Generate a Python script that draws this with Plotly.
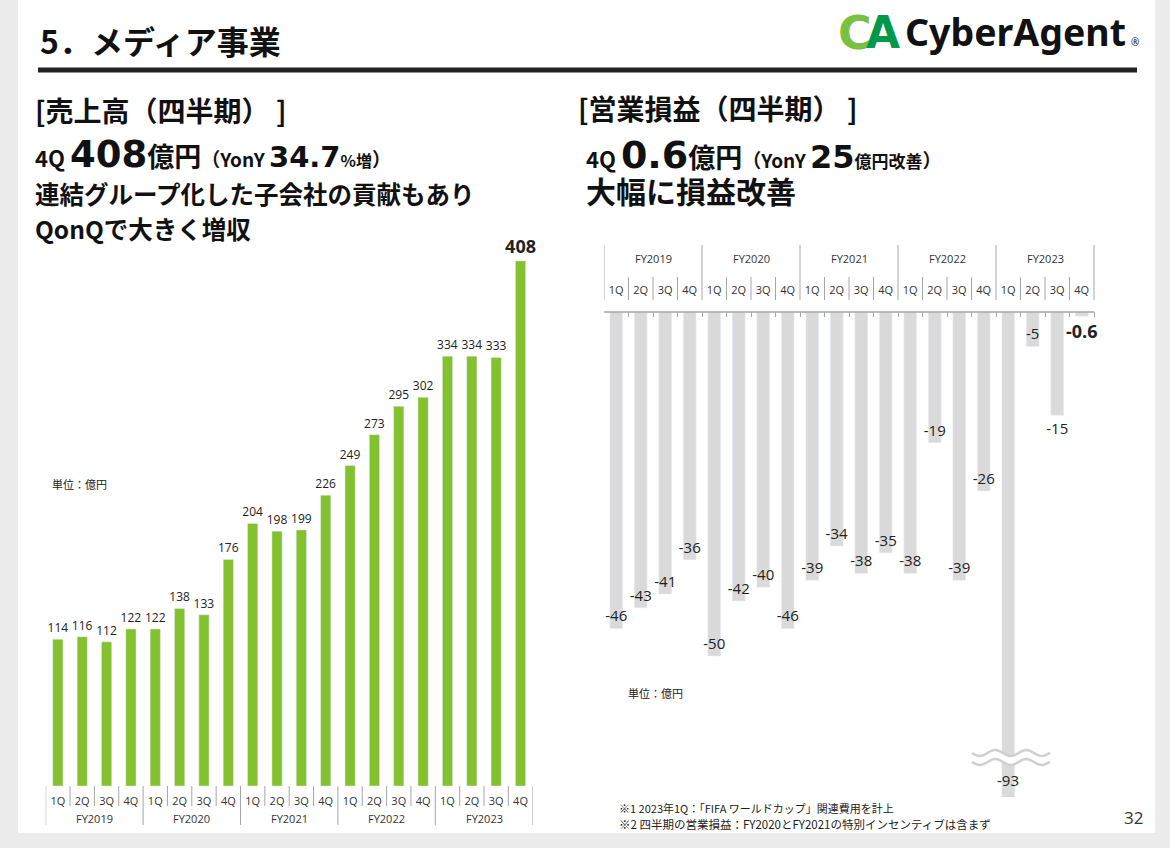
import math
import plotly.graph_objects as go

# ---- data ----
years = ['FY2019', 'FY2020', 'FY2021', 'FY2022', 'FY2023']
quarters = ['1Q', '2Q', '3Q', '4Q']
sales = [114, 116, 112, 122, 122, 138, 133, 176, 204, 198, 199, 226,
         249, 273, 295, 302, 334, 334, 333, 408]
op_income = [-46, -43, -41, -36, -50, -42, -40, -46, -39, -34, -38, -35,
             -38, -19, -39, -26, -93, -5, -15, -0.6]

W, H = 1170, 848
JP = 'Noto Sans CJK JP'
NUM = 'Open Sans'
WIDE = 'DejaVu Sans'


def px(x):
    return x / W


def py(y):
    return 1 - y / H


cats = [f'{y} {q}' for y in years for q in quarters]
q_labels = [q for y in years for q in quarters]
n = len(cats)

fig = go.Figure()

# left: sales
sales_text = [str(v) for v in sales]
sales_text[-1] = f'<b>{sales[-1]}</b>'
sales_size = [12] * (n - 1) + [18]
fig.add_trace(go.Bar(x=cats, y=sales, marker_color='#84c12e', width=0.42,
                     text=sales_text, textposition='outside', textangle=0,
                     constraintext='none',
                     textfont=dict(family=NUM, size=sales_size, color='#222'),
                     cliponaxis=False, hoverinfo='skip', xaxis='x', yaxis='y'))

# right: operating income
op_text = [f'<b>{v}</b>' if i == n - 1 else (str(int(v)) if v == int(v) else str(v))
           for i, v in enumerate(op_income)]
op_pos = ['inside'] * n
op_pos[-1] = 'outside'
op_pos[-2] = 'outside'
op_pos[-4] = 'none'
op_size = [15] * (n - 1) + [18]
fig.add_trace(go.Bar(x=cats, y=op_income, marker_color='#dadada', width=0.52,
                     text=op_text, textposition=op_pos, insidetextanchor='end',
                     constraintext='none', textangle=0,
                     textfont=dict(family=NUM, size=op_size, color='#222'),
                     insidetextfont=dict(family=NUM, size=op_size, color='#222'),
                     outsidetextfont=dict(family=NUM, size=op_size, color='#222'),
                     hoverinfo='skip', xaxis='x2', yaxis='y2'))

extra = 0.3  # room for the last label on the right chart
fig.update_layout(
    width=W, height=H, autosize=False,
    margin=dict(l=0, r=0, t=0, b=0),
    paper_bgcolor='#ececec', plot_bgcolor='rgba(0,0,0,0)',
    showlegend=False, bargap=0,
    xaxis=dict(domain=[px(45.7), px(532.7)], anchor='y', range=[-0.5, n - 0.5],
               tickvals=cats, ticktext=q_labels, ticks='', showgrid=False,
               showline=False, zeroline=False, ticklabelstandoff=7,
               tickfont=dict(family=NUM, size=11, color='#333'), fixedrange=True),
    yaxis=dict(domain=[py(786), py(250)], anchor='x', range=[0, (786 - 250) / 1.287],
               visible=False, fixedrange=True),
    xaxis2=dict(domain=[px(604), px(1094 + extra * 24.5)], anchor='y2', side='top',
                range=[-0.5, n - 0.5 + extra],
                tickvals=cats, ticktext=q_labels, ticks='inside', ticklen=5,
                tickcolor='#a6a6a6', tickson='boundaries', showgrid=False,
                showline=False, zeroline=False, ticklabelstandoff=15,
                tickfont=dict(family=NUM, size=11, color='#333'), fixedrange=True),
    yaxis2=dict(domain=[py(797), py(312)], anchor='x2', range=[-(797 - 312) / 6.88, 0],
                visible=False, fixedrange=True),
)

shapes = []
# slide background
shapes.append(dict(type='rect', xref='paper', yref='paper', x0=px(18), x1=px(1155),
                   y0=py(833), y1=py(0), fillcolor='white', line_width=0, layer='below'))
# heading rule
shapes.append(dict(type='line', xref='paper', yref='paper', x0=px(38), x1=px(1137),
                   y0=py(70), y1=py(70), line=dict(color='#222', width=5)))
# right chart axis line
shapes.append(dict(type='line', xref='x2', yref='paper', x0=-0.5, x1=n - 0.5,
                   y0=py(312), y1=py(312), line=dict(color='#a6a6a6', width=1.5)))

# left category dividers
for i in range(n + 1):
    bottom = 825 if i % 4 == 0 else 806
    shapes.append(dict(type='line', xref='x', yref='paper', x0=i - 0.5, x1=i - 0.5,
                       y0=py(786), y1=py(bottom), line=dict(color='#a6a6a6', width=1)))
# right category dividers
for i in range(n + 1):
    top = 245 if i % 4 == 0 else 277
    shapes.append(dict(type='line', xref='x2', yref='paper', x0=i - 0.5, x1=i - 0.5,
                       y0=py(300), y1=py(top), line=dict(color='#a6a6a6', width=1)))

# axis break on the large bar
wx0, wx1, period, amp = 972, 1050, 31, 3
pts = [wx0 + k for k in range(0, wx1 - wx0 + 1, 2)]


def wave(yc):
    return [(x, yc + amp * math.sin(2 * math.pi * (x - wx0) / period)) for x in pts]


w1, w2 = wave(753), wave(762)
band = w1 + w2[::-1]
path = 'M ' + ' L '.join(f'{px(x):.5f},{py(y):.5f}' for x, y in band) + ' Z'
shapes.append(dict(type='path', xref='paper', yref='paper', path=path,
                   fillcolor='white', line_width=0))
for w in (w1, w2):
    p = 'M ' + ' L '.join(f'{px(x):.5f},{py(y):.5f}' for x, y in w)
    shapes.append(dict(type='path', xref='paper', yref='paper', path=p,
                       line=dict(color='#d0d0d0', width=2.5)))

fig.update_layout(shapes=shapes)

ann = []


def note(x, y, text, size, xanchor='left', color='#111', family=JP, **kw):
    ann.append(dict(x=px(x), y=py(y), xref='paper', yref='paper', text=text,
                    showarrow=False, xanchor=xanchor, yanchor='middle',
                    font=dict(family=family, size=size, color=color), **kw))


def span(t, size, family=None):
    fam = f'font-family:{family};' if family else ''
    return f'<span style="{fam}font-size:{size}px">{t}</span>'


note(38, 40, '<b>5．メディア事業</b>', 32)

# logo
note(836, 33, '<b>C</b>', 46, color='#7ac142', family=WIDE)
note(864, 33, '<b>A</b>', 44, color='#00984a', family=WIDE)
note(903, 32, '<b>CyberAgent</b>', 37.5, color='#111', family='Noto Sans')
note(1129, 42, '®', 10, color='#111', family='Noto Sans')

# left titles
note(33, 110, '<b>[売上高（四半期） ]</b>', 28)
note(33, 155, '<b>' + span('4Q ', 22) + span('408', 37, WIDE) + span('億円', 27)
     + span('（YonY ', 19) + span('34.7', 29, WIDE) + span('%増', 16)
     + span('）', 19) + '</b>', 22)
note(33, 193, '<b>連結グループ化した子会社の貢献もあり</b>', 24.5)
note(33, 228, '<b>QonQで大きく増収</b>', 24.5)

# right titles
note(576, 108, '<b>[営業損益（四半期） ]</b>', 28)
note(584, 155, '<b>' + span('4Q ', 22) + span('0.6', 38, WIDE) + span('億円', 27)
     + span('（YonY ', 19) + span('25', 32, WIDE) + span('億円改善', 17)
     + span('）', 19) + '</b>', 22)
note(584, 190, '<b>大幅に損益改善</b>', 30)

# units
note(50, 484, '単位：億円', 11, color='#222')
note(626, 693, '単位：億円', 11, color='#222')

# FY labels
for k, y in enumerate(years):
    ann.append(dict(x=4 * k + 1.5, y=py(818), xref='x', yref='paper', text=y,
                    showarrow=False, yanchor='middle',
                    font=dict(family=NUM, size=11, color='#333')))
    ann.append(dict(x=4 * k + 1.5, y=py(258), xref='x2', yref='paper', text=y,
                    showarrow=False, yanchor='middle',
                    font=dict(family=NUM, size=11, color='#333')))

# label of the broken bar
ib = op_pos.index('none')
ann.append(dict(x=ib, y=0, xref='x2', yref='y2 domain', text=str(op_income[ib]),
                showarrow=False, yanchor='bottom', yshift=5,
                font=dict(family=NUM, size=15, color='#222')))

# footnotes and page number
note(617, 808, '※1 2023年1Q：「FIFA ワールドカップ」関連費用を計上', 11, color='#222')
note(617, 824, '※2 四半期の営業損益：FY2020とFY2021の特別インセンティブは含まず', 11.5, color='#222')
note(1133, 817, '32', 17, xanchor='center', color='#333', family=NUM)

fig.update_layout(annotations=ann)

fig.write_html('out.html', config={'displayModeBar': False, 'staticPlot': True},
               post_script="document.body.style.margin='0';")
